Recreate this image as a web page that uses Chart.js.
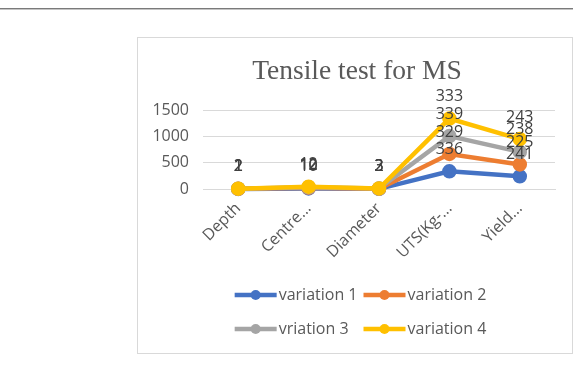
<!DOCTYPE html>
<html>
<head>
<meta charset="utf-8">
<script src="https://cdn.jsdelivr.net/npm/chart.js@4.4.0/dist/chart.umd.min.js"></script>
<style>
  html, body { margin: 0; padding: 0; background: #fff; }
  body { width: 573px; height: 366px; position: relative; overflow: hidden; }
  #rule { position: absolute; left: 0; top: 8px; width: 573px; height: 1px; background: #7a7a7a; border-bottom: 1px solid #c4c4c4; }
  #frame { position: absolute; left: 137px; top: 37px; width: 434px; height: 315px; border: 1px solid #d9d9d9; }
  #chart { position: absolute; left: 0; top: 0; }
</style>
</head>
<body>
<div id="rule"></div>
<div id="frame"><canvas id="chart" width="434" height="315"></canvas></div>
<script>
const categories = ['Depth', 'Centre...', 'Diameter', 'UTS(Kg-...', 'Yield...'];
const variation1 = [2, 10, 3, 336, 241];
const variation2 = [1, 12, 2, 329, 225];
const variation3 = [2, 10, 3, 339, 238];
const variation4 = [1, 12, 2, 333, 243];
const seriesNames = ['variation 1', 'variation 2', 'vriation 3', 'variation 4'];
const yTicks = [0, 500, 1000, 1500];

const colors = ['#4472c4', '#ed7d31', '#a5a5a5', '#ffc000'];
const textFont = "'Open Sans', sans-serif";
const textSize = 16;

// draw series 1 first so the last series ends up on top (Excel style)
const drawOrder = {
  id: 'drawOrder',
  beforeDatasetsDraw(chart) {
    const ctx = chart.ctx;
    for (let i = 0; i < chart.data.datasets.length; i++) {
      ctx.save();
      chart.getDatasetMeta(i).controller.draw();
      ctx.restore();
    }
    return false;
  }
};

// value labels sit above each stacked point, like Excel's data labels
const valueLabels = {
  id: 'valueLabels',
  afterDraw(chart) {
    const ctx = chart.ctx;
    ctx.save();
    ctx.font = textSize + 'px ' + textFont;
    ctx.fillStyle = '#404040';
    ctx.textAlign = 'center';
    ctx.textBaseline = 'middle';
    chart.data.datasets.forEach((ds, i) => {
      const meta = chart.getDatasetMeta(i);
      meta.data.forEach((pt, j) => {
        ctx.fillText(String(ds.data[j]), pt.x, pt.y - 22);
      });
    });
    ctx.restore();
  }
};

// two-column legend at the bottom
const gridLegend = {
  id: 'gridLegend',
  afterDraw(chart) {
    const ctx = chart.ctx;
    const ds = chart.data.datasets;
    ctx.save();
    ctx.font = textSize + 'px ' + textFont;
    const lineW = 42;
    const maxText = Math.max(...ds.map(d => ctx.measureText(d.label).width));
    const colW = lineW + 3 + maxText + 5;
    const x0 = chart.width / 2 - (colW * 2 - 5) / 2 + 6;
    const rows = [257, 291];
    ds.forEach((d, i) => {
      const x = x0 + (i % 2) * colW;
      const y = rows[Math.floor(i / 2)];
      ctx.strokeStyle = d.borderColor;
      ctx.lineWidth = 4.5;
      ctx.beginPath();
      ctx.moveTo(x, y);
      ctx.lineTo(x + lineW, y);
      ctx.stroke();
      ctx.fillStyle = d.borderColor;
      ctx.beginPath();
      ctx.arc(x + lineW / 2, y, 5, 0, Math.PI * 2);
      ctx.fill();
      ctx.fillStyle = '#595959';
      ctx.textAlign = 'left';
      ctx.textBaseline = 'middle';
      ctx.fillText(d.label, x + lineW + 2, y);
    });
    ctx.restore();
  }
};

const values = [variation1, variation2, variation3, variation4];

new Chart(document.getElementById('chart').getContext('2d'), {
  type: 'line',
  data: {
    labels: categories,
    datasets: values.map((v, i) => ({
      label: seriesNames[i],
      data: v,
      borderColor: colors[i],
      backgroundColor: colors[i],
      borderWidth: 4.5,
      pointRadius: 5,
      pointHoverRadius: 5,
      tension: 0,
      fill: false
    }))
  },
  options: {
    responsive: false,
    animation: false,
    events: [],
    layout: { padding: { left: 4, right: 0, top: 0, bottom: 84 } },
    plugins: {
      legend: { display: false },
      tooltip: { enabled: false },
      title: {
        display: true,
        text: 'Tensile test for MS',
        color: '#595959',
        font: { family: "'Liberation Serif', 'Times New Roman', serif", size: 27.5, weight: 'normal', lineHeight: 1.2 },
        padding: { top: 17, bottom: 22 }
      }
    },
    scales: {
      x: {
        offset: true,
        grid: { display: false, drawTicks: false },
        border: { display: true, color: '#d9d9d9', width: 1 },
        ticks: { color: '#595959', font: { family: textFont, size: textSize }, minRotation: 45, maxRotation: 45, padding: 10, autoSkip: false },
        afterFit: s => { s.height = 80; }
      },
      y: {
        stacked: true,
        min: 0,
        max: 1500,
        afterBuildTicks: s => { s.ticks = yTicks.map(v => ({ value: v })); },
        grid: { color: '#d9d9d9', drawTicks: false },
        border: { display: false },
        ticks: { color: '#595959', font: { family: textFont, size: textSize }, padding: 14, callback: v => String(v) },
        afterFit: s => { s.width = 61; }
      },
      // empty right-hand spacer keeps the plot off the right edge
      yRight: {
        position: 'right',
        grid: { display: false, drawTicks: false },
        border: { display: false },
        ticks: { display: false },
        afterFit: s => { s.width = 17; }
      }
    }
  },
  plugins: [drawOrder, valueLabels, gridLegend]
});
</script>
</body>
</html>
